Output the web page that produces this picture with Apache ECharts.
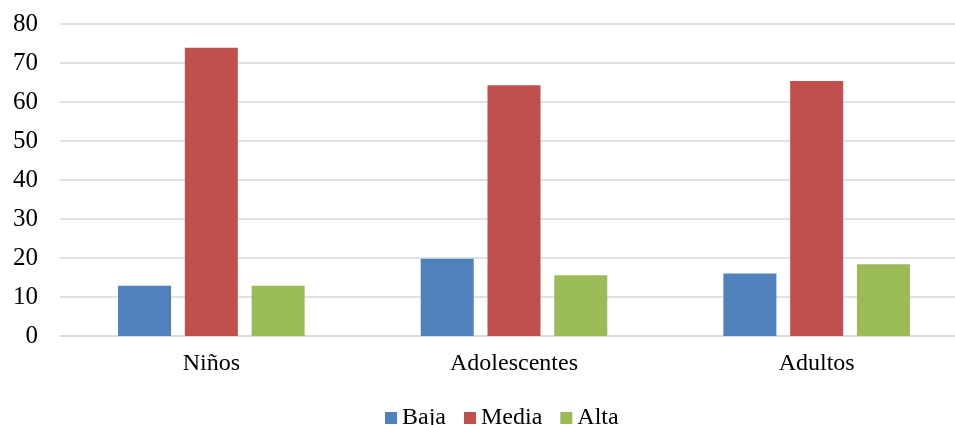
<!DOCTYPE html>
<html>
<head>
<meta charset="utf-8">
<script src="https://cdn.jsdelivr.net/npm/echarts@6/dist/echarts.min.js"></script>
<style>
html,body{margin:0;padding:0;background:#fff;overflow:hidden;width:955px;height:425px;}
#chart{width:968px;height:425px;}
</style>
</head>
<body>
<div id="chart"></div>
<script>
const categories = ['Niños', 'Adolescentes', 'Adultos'];
const seriesNames = ['Baja', 'Media', 'Alta'];
const baja = [12.9, 19.8, 16.0];
const media = [73.9, 64.3, 65.4];
const alta = [12.9, 15.6, 18.4];
const colors = ['#4F81BD', '#C0504D', '#9BBB59'];

const chart = echarts.init(document.getElementById('chart'));
const font = 'Liberation Serif';
chart.setOption({
  animation: false,
  color: colors,
  grid: { left: 60, right: 0, top: 24, bottom: 89, containLabel: false },
  legend: {
    data: seriesNames,
    bottom: -10,
    left: 380,
    itemWidth: 12,
    itemHeight: 12,
    itemGap: 18,
    icon: 'rect',
    textStyle: { fontFamily: font, fontSize: 24, color: '#000' }
  },
  xAxis: {
    type: 'category',
    data: categories,
    axisLine: { show: true, lineStyle: { color: '#d9d9d9', width: 1.5 } },
    axisTick: { show: false },
    axisLabel: { fontFamily: font, fontSize: 24, color: '#000', margin: 16 }
  },
  yAxis: {
    type: 'value',
    min: 0,
    max: 80,
    interval: 10,
    axisLine: { show: false },
    axisTick: { show: false },
    splitLine: { lineStyle: { color: '#d9d9d9', width: 1.5 } },
    axisLabel: { fontFamily: font, fontSize: 25, color: '#000', margin: 22 }
  },
  series: [
    { name: seriesNames[0], type: 'bar', data: baja, barWidth: 53, barGap: '26%' },
    { name: seriesNames[1], type: 'bar', data: media, barWidth: 53, barGap: '26%' },
    { name: seriesNames[2], type: 'bar', data: alta, barWidth: 53, barGap: '26%' }
  ]
});
</script>
</body>
</html>
